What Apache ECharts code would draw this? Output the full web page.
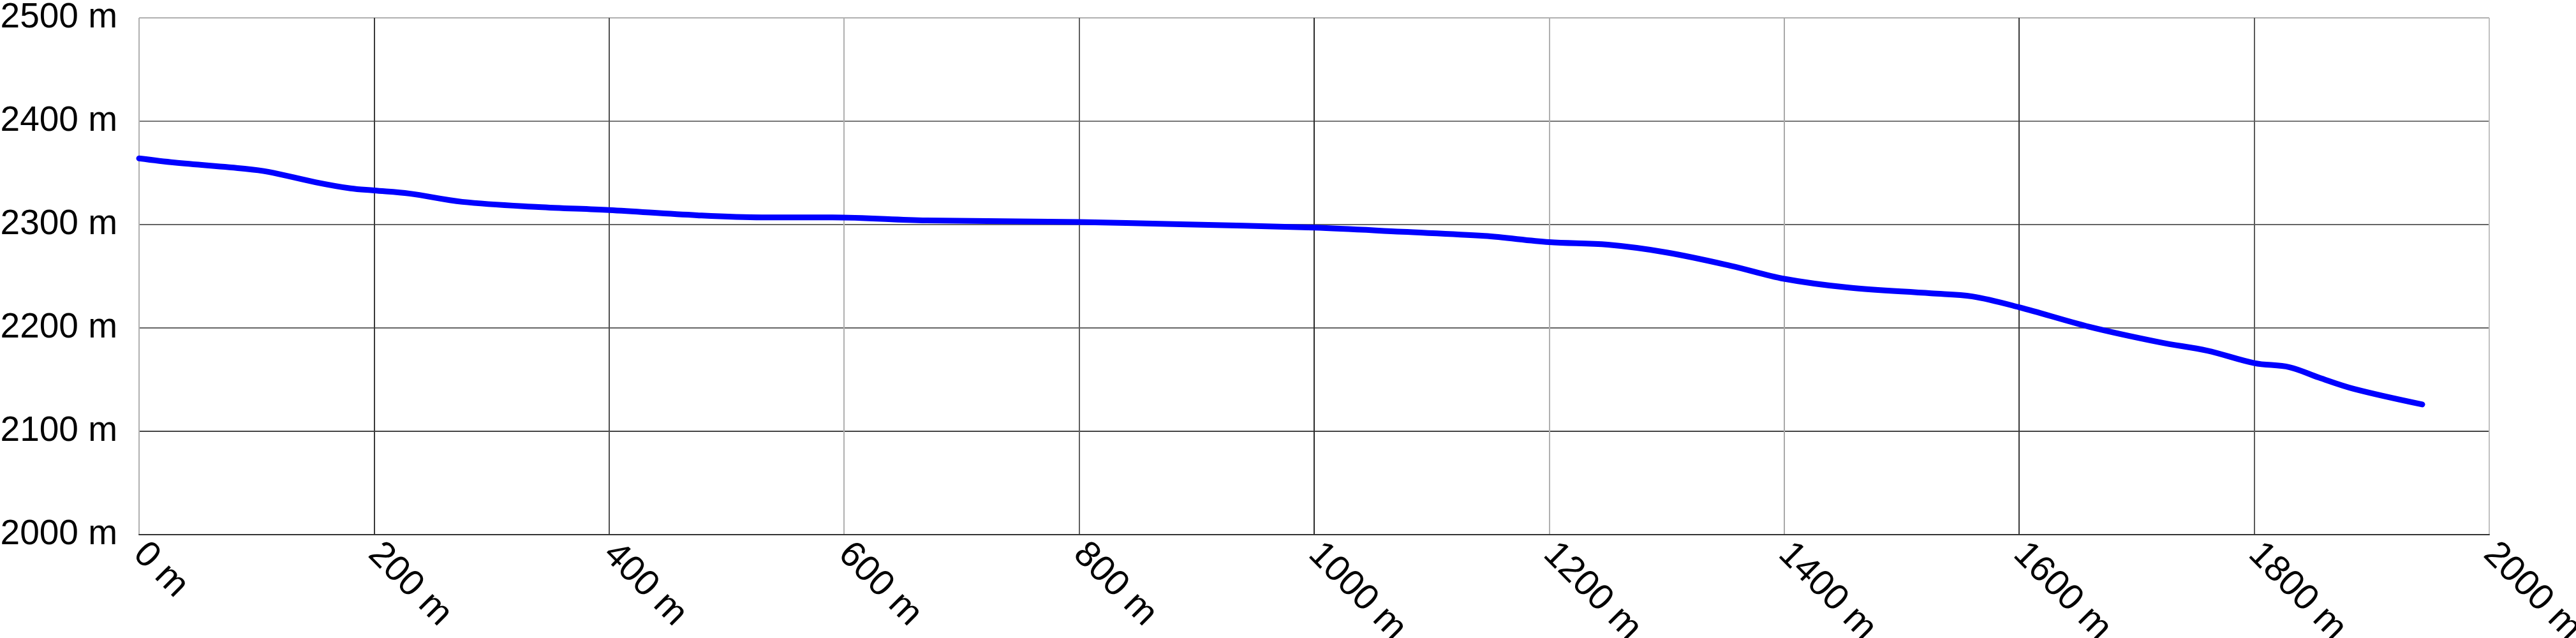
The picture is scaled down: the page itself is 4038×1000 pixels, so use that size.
<!DOCTYPE html>
<html>
<head>
<meta charset="utf-8">
<style>
  html, body { margin: 0; padding: 0; background: #fff; }
  #chart { width: 4038px; height: 1000px; }
</style>
<script src="https://cdn.jsdelivr.net/npm/echarts@6/dist/echarts.min.js"></script>
</head>
<body>
<div id="chart"></div>
<script>
// Distance along the route (m)
const distances = [0, 30, 90, 110, 150, 180, 200, 230, 275, 340, 400, 475, 530, 590, 670, 800, 880, 1000, 1075, 1145, 1200, 1250, 1300, 1355, 1400, 1455, 1525, 1560, 1600, 1660, 1720, 1760, 1800, 1830, 1855, 1885, 1943];
// Elevation (m)
const elevations = [2364, 2360, 2354, 2351, 2341, 2335, 2333, 2330, 2322, 2317, 2314, 2309, 2307, 2307, 2304, 2302.5, 2300.5, 2297, 2293, 2289, 2283, 2280.5, 2273, 2260, 2247.5, 2239, 2233.5, 2230.5, 2220, 2201, 2186, 2178, 2166, 2162, 2152, 2141, 2126];

const xMin = 0, xMax = 2000, xStep = 200;
const yMin = 2000, yMax = 2500, yStep = 100;
const unit = ' m';

const profile = distances.map((d, i) => [d, elevations[i]]);

const font = "'Liberation Sans', Arial, Helvetica, sans-serif";
const chart = echarts.init(document.getElementById('chart'), null, { renderer: 'canvas' });
chart.setOption({
  animation: false,
  backgroundColor: '#ffffff',
  grid: { left: 218, right: 136, top: 28, bottom: 162, containLabel: false, outerBoundsMode: 'none' },
  xAxis: {
    type: 'value',
    min: xMin, max: xMax, interval: xStep,
    axisLine: { show: true, lineStyle: { color: '#333333', width: 2 } },
    axisTick: { show: false },
    axisLabel: {
      formatter: v => v + unit,
      rotate: -45,
      margin: 22,
      color: '#000000',
      fontSize: 57,
      fontFamily: font,
      showMinLabel: true, showMaxLabel: true
    },
    splitLine: {
      show: true,
      lineStyle: { width: 2, color: ['#b0b0b0', '#3a3a3a', '#505050', '#b0b0b0', '#606060', '#2a2a2a', '#b0b0b0', '#a8a8a8', '#3a3a3a', '#5a5a5a', '#c0c0c0'] }
    }
  },
  yAxis: {
    type: 'value',
    min: yMin, max: yMax, interval: yStep,
    axisLine: { show: false },
    axisTick: { show: false },
    axisLabel: {
      formatter: v => v + unit,
      margin: 34,
      color: '#000000',
      fontSize: 55,
      fontFamily: font,
      showMinLabel: true, showMaxLabel: true
    },
    splitLine: {
      show: true,
      lineStyle: { width: 2, color: ['#333333', '#444444', '#666666', '#666666', '#777777', '#b0b0b0'] }
    }
  },
  series: [{
    type: 'line',
    data: profile,
    smooth: 0.35,
    showSymbol: false,
    lineStyle: { color: '#0000ff', width: 9, cap: 'round', join: 'round' }
  }]
});
</script>
</body>
</html>
